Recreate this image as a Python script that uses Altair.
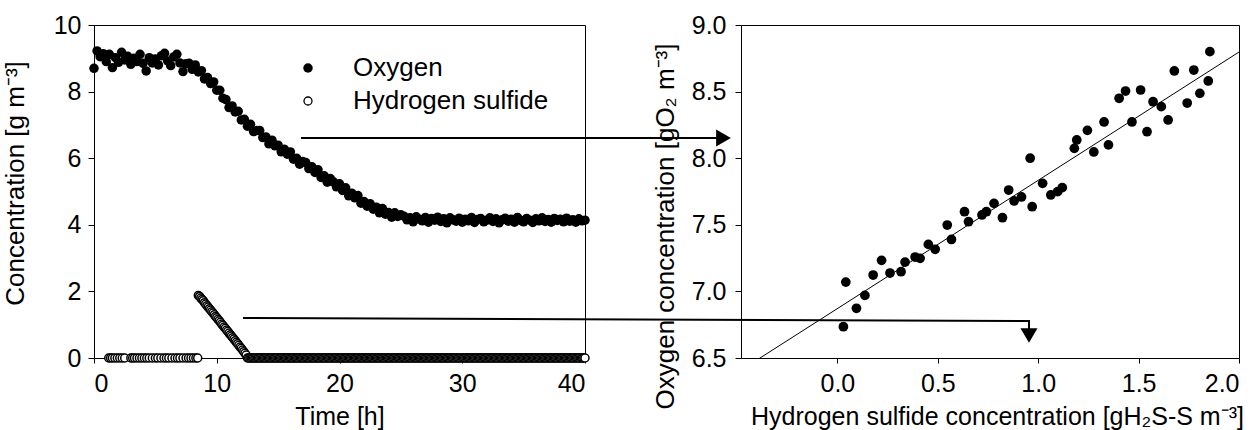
import altair as alt
import pandas as pd

FONT = "Liberation Sans"

# ---- left panel: oxygen and hydrogen sulfide over time -------------------
# oxygen logged every 0.25 h from 0 h to 40 h  [g m-3]
o2_values = [
    # 0 - 7.5 h
    8.70, 9.22, 9.05, 9.14, 8.90, 9.12, 8.72, 9.02, 8.88, 9.18,
    8.95, 9.06, 8.82, 9.00, 8.90, 9.12, 8.85, 8.62, 9.02, 8.86,
    8.98, 8.80, 9.08, 9.15, 8.92, 8.78, 9.04, 9.12, 8.86, 8.60,
    8.84,
    # 7.75 - 25 h
    8.85, 8.67, 8.80, 8.59, 8.63, 8.38, 8.42, 8.24, 8.29, 8.04,
    8.04, 7.80, 7.76, 7.52, 7.57, 7.39, 7.41, 7.15, 7.17, 6.96,
    7.02, 6.80, 6.83, 6.83, 6.62, 6.64, 6.43, 6.54, 6.37, 6.39,
    6.19, 6.27, 6.12, 6.19, 5.97, 6.00, 5.82, 5.90, 5.87, 5.69,
    5.74, 5.57, 5.65, 5.42, 5.47, 5.28, 5.39, 5.29, 5.14, 5.23,
    5.03, 5.11, 4.87, 4.95, 4.81, 4.88, 4.65, 4.70, 4.56, 4.63,
    4.47, 4.53, 4.36, 4.49, 4.32, 4.37, 4.23, 4.36, 4.25, 4.30,
    # 25.25 - 40 h
    4.26, 4.15, 4.21, 4.09, 4.24, 4.17, 4.12, 4.22, 4.08, 4.19,
    4.14, 4.23, 4.10, 4.18, 4.06, 4.21, 4.15, 4.11, 4.20, 4.08,
    4.17, 4.12, 4.22, 4.07, 4.16, 4.19, 4.09, 4.14, 4.21, 4.10,
    4.18, 4.06, 4.15, 4.20, 4.11, 4.17, 4.08, 4.22, 4.13, 4.09,
    4.19, 4.14, 4.07, 4.18, 4.12, 4.21, 4.10, 4.16, 4.08, 4.19,
    4.13, 4.17, 4.09, 4.20, 4.11, 4.15, 4.08, 4.18, 4.12, 4.14,
]
o2_step_h = 0.25
o2_time = [round(i * o2_step_h, 2) for i in range(len(o2_values))]

# hydrogen sulfide before the pulse (all zero)
h2s_time_before = [
    1.2, 1.35, 1.5, 1.7, 1.9, 2.1, 2.3, 2.5, 3.0, 3.15, 3.3, 3.5,
    3.7, 3.9, 4.1, 4.3, 4.5, 4.75, 5.0, 5.2, 5.45, 5.7, 5.9, 6.1,
    6.35, 6.6, 6.8, 7.0, 7.25, 7.5, 7.7, 7.9, 8.1, 8.3, 8.45,
]
# hydrogen sulfide pulse and its consumption
h2s_time_pulse = [
    8.5, 8.6, 8.7, 8.8, 8.9, 9.0, 9.1, 9.2, 9.3, 9.4,
    9.5, 9.6, 9.7, 9.8, 9.9, 10.0, 10.1, 10.2, 10.3, 10.4,
    10.5, 10.6, 10.7, 10.8, 10.9, 11.0, 11.1, 11.2, 11.3, 11.4,
    11.5, 11.6, 11.7, 11.8, 11.9, 12.0, 12.1, 12.2, 12.3, 12.4,
]
h2s_value_pulse = [
    1.88, 1.85, 1.80, 1.76, 1.72, 1.66, 1.62, 1.57, 1.53, 1.48,
    1.44, 1.39, 1.35, 1.30, 1.25, 1.21, 1.16, 1.12, 1.07, 1.02,
    0.98, 0.93, 0.89, 0.84, 0.80, 0.75, 0.70, 0.66, 0.61, 0.57,
    0.52, 0.47, 0.43, 0.38, 0.33, 0.29, 0.24, 0.19, 0.14, 0.09,
]
# after the pulse: logged every 0.1 h up to 40 h, all zero
h2s_time_after = [round(12.5 + 0.1 * i, 1) for i in range(276)]

h2s_time = h2s_time_before + h2s_time_pulse + h2s_time_after
h2s_value = ([0.0] * len(h2s_time_before) + h2s_value_pulse
             + [0.0] * len(h2s_time_after))

legend_labels = ["Oxygen", "Hydrogen sulfide"]

# ---- right panel: oxygen vs hydrogen sulfide -----------------------------
h2s_conc = [
    0.030, 0.042, 0.095, 0.137, 0.178, 0.220, 0.262, 0.317, 0.337, 0.387,
    0.412, 0.453, 0.487, 0.547, 0.568, 0.633, 0.653, 0.720, 0.742, 0.780,
    0.822, 0.853, 0.880, 0.917, 0.960, 0.970, 1.022, 1.063, 1.097, 1.120,
    1.180, 1.192, 1.245, 1.277, 1.328, 1.350, 1.403, 1.435, 1.467, 1.510,
    1.542, 1.572, 1.613, 1.647, 1.678, 1.742, 1.775, 1.805, 1.847, 1.855,
]
o2_conc = [
    6.735, 7.070, 6.873, 6.970, 7.123, 7.233, 7.138, 7.148, 7.220, 7.258,
    7.248, 7.353, 7.316, 7.498, 7.390, 7.598, 7.523, 7.574, 7.598, 7.661,
    7.553, 7.761, 7.679, 7.709, 8.000, 7.636, 7.811, 7.724, 7.749, 7.779,
    8.074, 8.137, 8.209, 8.047, 8.272, 8.100, 8.450, 8.504, 8.272, 8.512,
    8.199, 8.424, 8.387, 8.287, 8.655, 8.414, 8.662, 8.487, 8.580, 8.800,
]
# linear fit: O2 = intercept + slope * H2S
fit_intercept = 6.871
fit_slope = 0.963

# ---- axis ranges and sizes ----------------------------------------------
H2S_DOMAIN = [-0.48, 2.0]
LEFT_W, RIGHT_W, H = 491, 498, 333

o2_df = pd.DataFrame({"t": o2_time, "c": o2_values})
h2s_df = pd.DataFrame({"t": h2s_time, "c": h2s_value})
scatter_df = pd.DataFrame({"h2s": h2s_conc, "o2": o2_conc})
fit_df = pd.DataFrame({
    "h2s": H2S_DOMAIN,
    "o2": [fit_intercept + fit_slope * v for v in H2S_DOMAIN],
})
one_row = pd.DataFrame({"k": [0]})

# shared settings for the two bottom axes
x_axis_style = dict(tickSize=5, labelPadding=8, titleY=58,
                    titleBaseline="middle", titleFontSize=25)

x_time = alt.X(
    "t:Q",
    scale=alt.Scale(domain=[0, 40], nice=False, zero=False),
    axis=alt.Axis(values=[0, 10, 20, 30, 40], title="Time [h]", **x_axis_style),
)
y_conc = alt.Y(
    "c:Q",
    scale=alt.Scale(domain=[0, 10], nice=False),
    axis=alt.Axis(values=[0, 2, 4, 6, 8, 10], title="Concentration [g m⁻³]",
                  labelPadding=7, titlePadding=25, titleY=158),
)

o2_layer = alt.Chart(o2_df).mark_circle(
    size=90, color="black", opacity=1
).encode(x=x_time, y=y_conc)

h2s_layer = alt.Chart(h2s_df).mark_circle(
    size=64, fill="white", stroke="black", strokeWidth=1.5, opacity=1
).encode(x="t:Q", y="c:Q")

legend_dot = alt.Chart(one_row).mark_circle(
    size=90, color="black", opacity=1
).encode(x=alt.value(214), y=alt.value(43))
legend_ring = alt.Chart(one_row).mark_circle(
    size=64, fill="white", stroke="black", strokeWidth=1.3, opacity=1
).encode(x=alt.value(214), y=alt.value(76))
legend_text_1 = alt.Chart(pd.DataFrame({"label": [legend_labels[0]]})).mark_text(
    align="left", baseline="middle", font=FONT, fontSize=26, color="black"
).encode(x=alt.value(259), y=alt.value(43), text="label:N")
legend_text_2 = alt.Chart(pd.DataFrame({"label": [legend_labels[1]]})).mark_text(
    align="left", baseline="middle", font=FONT, fontSize=26, color="black"
).encode(x=alt.value(259), y=alt.value(76), text="label:N")

# arrow pointing from the oxygen curve to the oxygen axis of the right panel
arrow_top_line = alt.Chart(one_row).mark_rule(
    color="black", strokeWidth=2
).encode(x=alt.value(207), x2=alt.value(624), y=alt.value(113), y2=alt.value(113))
arrow_top_head = alt.Chart(one_row).mark_point(
    shape="triangle-right", size=289, filled=True, color="black", opacity=1
).encode(x=alt.value(629.5), y=alt.value(113))

left = alt.layer(
    o2_layer, h2s_layer, legend_dot, legend_ring, legend_text_1, legend_text_2,
    arrow_top_line, arrow_top_head,
).properties(width=LEFT_W, height=H)

x_h2s = alt.X(
    "h2s:Q",
    scale=alt.Scale(domain=H2S_DOMAIN, nice=False, zero=False),
    axis=alt.Axis(values=[0.0, 0.5, 1.0, 1.5, 2.0], format=".1f",
                  title="Hydrogen sulfide concentration [gH₂S-S m⁻³]",
                  titleX=256, **x_axis_style),
)
y_o2 = alt.Y(
    "o2:Q",
    scale=alt.Scale(domain=[6.5, 9.0], nice=False, zero=False),
    axis=alt.Axis(values=[6.5, 7.0, 7.5, 8.0, 8.5, 9.0], format=".1f",
                  title="Oxygen concentration [gO₂ m⁻³]",
                  labelPadding=9, titlePadding=13, titleY=201),
)

fit = alt.Chart(fit_df).mark_line(
    color="black", strokeWidth=1, clip=True
).encode(x=x_h2s, y=y_o2)

scatter = alt.Chart(scatter_df).mark_circle(
    size=95, color="black", opacity=1
).encode(x="h2s:Q", y="o2:Q")

# arrow from the hydrogen sulfide pulse to the hydrogen sulfide axis
arrow_low_line = alt.Chart(one_row).mark_rule(
    color="black", strokeWidth=2
).encode(x=alt.value(-498), x2=alt.value(288), y=alt.value(293), y2=alt.value(296))
arrow_low_drop = alt.Chart(one_row).mark_rule(
    color="black", strokeWidth=2
).encode(x=alt.value(288), x2=alt.value(288), y=alt.value(295), y2=alt.value(306))
arrow_low_head = alt.Chart(one_row).mark_point(
    shape="triangle-down", size=289, filled=True, color="black", opacity=1
).encode(x=alt.value(288), y=alt.value(310.5))

right = alt.layer(
    fit, scatter, arrow_low_line, arrow_low_drop, arrow_low_head
).properties(width=RIGHT_W, height=H)

chart = alt.hconcat(left, right, spacing=156, bounds="flush").properties(
    padding={"left": 1, "top": 12, "right": 2, "bottom": 2}
).configure_view(
    stroke="black", strokeWidth=1
).configure_axis(
    grid=False,
    labelFont=FONT, labelFontSize=25, labelColor="black",
    titleFont=FONT, titleFontSize=26, titleFontWeight="normal", titleColor="black",
    domainColor="black", tickColor="black", tickSize=6,
)

chart.save("out.html", embed_options={"renderer": "svg", "actions": False})
